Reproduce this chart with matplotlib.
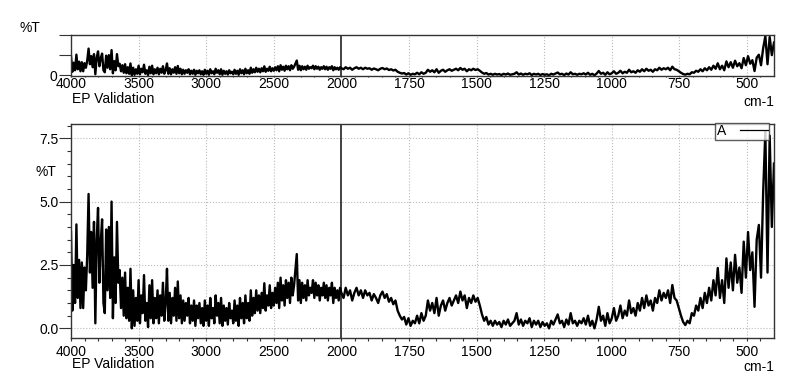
import numpy as np
import matplotlib
matplotlib.use('Agg')
from matplotlib import pyplot as plt

matplotlib.rcParams['font.family'] = ['Liberation Sans', 'DejaVu Sans']

# wavenumber grid: 10 cm-1 steps above 2000, 8 cm-1 steps below
wn_high = np.arange(4000, 2000, -10)
wn_low = np.arange(2000, 399, -8)

T_high = [
    3.8, 0.7, 2.5, 1.0, 4.1, 1.2, 2.7, 0.8, 2.6, 0.8,
    2.4, 1.5, 2.9, 5.3, 2.2, 3.8, 1.6, 4.2, 0.2, 3.5,
    4.75, 1.8, 3.4, 4.3, 1.0, 0.6, 3.9, 1.5, 4.0, 1.2,
    5.0, 0.4, 2.8, 1.0, 4.2, 1.8, 2.3, 0.8, 2.0, 0.5,
    2.2, 0.4, 1.6, 0.3, 2.35, 0.0, 1.5, 0.1, 1.2, 0.3,
    1.9, 0.2, 1.3, 0.6, 2.1, 0.3, 1.0, 0.05, 1.7, 0.4,
    1.9, 0.2, 1.2, 0.4, 1.5, 0.2, 1.3, 0.5, 1.8, 0.3,
    1.0, 2.35, 0.3, 1.4, 0.2, 1.2, 0.5, 1.6, 0.3, 1.85,
    0.4, 1.3, 0.2, 1.1, 0.3, 1.0, 0.5, 1.2, 0.2, 0.9,
    0.3, 1.1, 0.1, 0.9, 0.4, 1.0, 0.2, 0.8, 0.1, 1.1,
    0.3, 0.9, 0.1, 1.2, 0.4, 0.8, 0.2, 1.3, 0.5, 1.0,
    0.2, 1.2, 0.1, 0.9, 0.3, 0.8, 0.15, 1.0, 0.4, 0.7,
    0.2, 1.1, 0.3, 0.9, 0.1, 1.2, 0.4, 1.0, 0.2, 1.3,
    0.4, 1.0, 0.3, 1.5, 0.5, 1.2, 0.6, 1.5, 0.7, 1.3,
    0.6, 1.4, 0.8, 1.78, 0.7, 1.3, 0.9, 1.7, 0.8, 1.4,
    0.9, 1.6, 1.0, 1.8, 0.8, 2.0, 1.1, 1.7, 0.9, 1.9,
    1.2, 1.8, 1.0, 2.0, 1.3, 1.7, 2.3, 2.93, 1.1, 1.9,
    1.0, 1.8, 1.2, 1.7, 1.1, 1.9, 1.3, 1.6, 1.4, 1.9,
    1.2, 1.8, 1.3, 1.7, 1.1, 1.6, 1.3, 1.8, 1.2, 1.7,
    1.1, 1.6, 1.3, 1.8, 1.0, 1.6, 1.2, 1.5, 1.1, 1.6,
]

T_low = [
    1.4, 1.2, 1.6, 1.3, 1.5, 1.1, 1.4, 1.6, 1.3, 1.5,
    1.2, 1.5, 1.3, 1.4, 1.1, 1.35, 1.2, 1.0, 1.3, 1.45,
    1.2, 1.35, 1.05, 1.2, 0.95, 1.1, 0.7, 0.5, 0.35, 0.45,
    0.15, 0.4, 0.1, 0.3, 0.2, 0.5, 0.2, 0.6, 0.3, 0.5,
    1.1, 0.7, 1.0, 0.6, 1.2, 0.5, 0.9, 1.1, 0.7, 1.0,
    1.2, 0.9, 1.1, 1.3, 1.0, 1.45, 1.1, 1.3, 0.8, 1.2,
    1.0, 1.3, 1.05, 1.2, 0.9, 0.55, 0.3, 0.45, 0.15, 0.3,
    0.1, 0.3, 0.15, 0.25, 0.05, 0.3, 0.15, 0.35, 0.1, 0.2,
    0.3, 0.6, 0.15, 0.35, 0.1, 0.3, 0.2, 0.4, 0.05, 0.3,
    0.15, 0.3, 0.05, 0.25, 0.1, 0.2, 0.0, 0.3, 0.15, 0.35,
    0.55, 0.2, 0.3, 0.05, 0.35, 0.15, 0.6, 0.2, 0.3, 0.1,
    0.3, 0.2, 0.4, 0.15, 0.5, 0.1, 0.3, 0.0, 0.35, 0.85,
    0.3, 0.5, 0.1, 0.6, 0.2, 0.4, 0.8, 0.3, 0.5, 0.9,
    0.4, 0.7, 0.5, 1.1, 0.6, 0.8, 0.5, 1.0, 0.7, 1.2,
    0.8, 1.3, 0.9, 1.1, 0.7, 1.2, 1.0, 1.5, 1.1, 1.4,
    1.2, 1.5, 1.0, 1.71, 1.2, 1.1, 0.8, 0.5, 0.25, 0.13,
    0.3, 0.2, 0.6, 0.5, 0.9, 0.7, 1.2, 0.8, 1.4, 1.0,
    1.6, 1.1, 1.9, 1.3, 2.38, 1.2, 1.9, 1.0, 2.76, 1.6,
    2.6, 1.5, 2.9, 1.8, 2.4, 1.4, 3.42, 2.0, 3.8, 2.3,
    3.0, 0.85, 3.5, 4.08, 2.0, 5.4, 7.76, 2.2, 7.6, 4.0,
    6.5,
]

wn = np.concatenate([wn_high, wn_low])
T = np.concatenate([T_high, T_low])

major_x = [4000, 3500, 3000, 2500, 2000, 1750, 1500, 1250, 1000, 750, 500]
minor_x = [w for w in list(range(3900, 2000, -100)) + list(range(1950, 400, -50)) if w not in major_x]


def fwd(x):
    x = np.asarray(x, dtype=float)
    return np.where(x > 2000, 2000 + (x - 2000) / 2.0, x)


def inv(u):
    u = np.asarray(u, dtype=float)
    return np.where(u > 2000, 2000 + (u - 2000) * 2.0, u)


W, H = 785, 388
fig = plt.figure(figsize=(W / 100, H / 100), dpi=100)


def px_axes(x0, y0, x1, y1):
    return fig.add_axes([x0 / W, 1 - y1 / H, (x1 - x0) / W, (y1 - y0) / H])


def style(ax, xlen, xpad, ypad):
    ax.set_xscale('function', functions=(fwd, inv))
    ax.set_xlim(4000, 400)
    ax.set_xticks(major_x)
    ax.set_xticks(minor_x, minor=True)
    ax.set_xticklabels([str(v) for v in major_x])
    for s in ax.spines.values():
        s.set_color('#333333')
        s.set_linewidth(1.0)
    ax.tick_params(axis='x', which='both', direction='out', length=xlen, width=0.8,
                   color='#333333', labelsize=10, pad=xpad)
    ax.tick_params(axis='y', which='major', direction='out', length=8.5, width=0.8,
                   color='#333333', labelsize=10, pad=ypad)
    ax.tick_params(axis='y', which='minor', direction='out', length=3, width=0.8,
                   color='#333333')
    for v in major_x:
        if v == 2000:
            ax.axvline(v, color='#333333', lw=1.3, zorder=1)
        elif v != 4000:
            ax.axvline(v, color='#bbbbbb', lw=0.8, ls=':', zorder=0)


# top overview panel
ax1 = px_axes(71, 35, 774, 76)
ax1.plot(wn, T, color='black', lw=1.7, zorder=2)
style(ax1, 1.0, 0.0, 1.5)
ax1.set_ylim(-0.14, 8.0)
ax1.set_yticks([0, 4, 8])
ax1.set_yticklabels(['0', '', ''])

# main panel
ax2 = px_axes(71, 124, 774, 338)
ax2.plot(wn, T, color='black', lw=1.7, zorder=2, label='A')
style(ax2, 2.2, 2.5, 0.5)
ax2.set_ylim(-0.38, 8.06)
ax2.set_yticks([0, 2.5, 5.0, 7.5])
ax2.set_yticklabels(['0.0', '2.5', '5.0', '7.5'])
ax2.set_yticks(np.arange(0, 8.01, 0.5), minor=True)
for v in [0, 2.5, 5.0, 7.5]:
    ax2.axhline(v, color='#bbbbbb', lw=0.8, ls=':', zorder=0)

leg = ax2.legend(loc='upper right', bbox_to_anchor=(0.993, 1.005), markerfirst=False,
                 fancybox=False, edgecolor='#333333', fontsize=10, borderpad=0.1,
                 handlelength=2.0, handletextpad=1.0, borderaxespad=0)
leg.get_frame().set_linewidth(1.0)
for line in leg.get_lines():
    line.set_linewidth(0.9)


def ftext(x, y, s, **kw):
    fig.text(x / W, 1 - y / H, s, fontsize=10, **kw)


ftext(20, 28, '%T', ha='left', va='center')
ftext(36, 172, '%T', ha='left', va='center')
ftext(72, 99, 'EP Validation', ha='left', va='center')
ftext(72, 364, 'EP Validation', ha='left', va='center')
ftext(774, 102, 'cm-1', ha='right', va='center')
ftext(774, 367, 'cm-1', ha='right', va='center')

plt.savefig('out.png', dpi=100)
